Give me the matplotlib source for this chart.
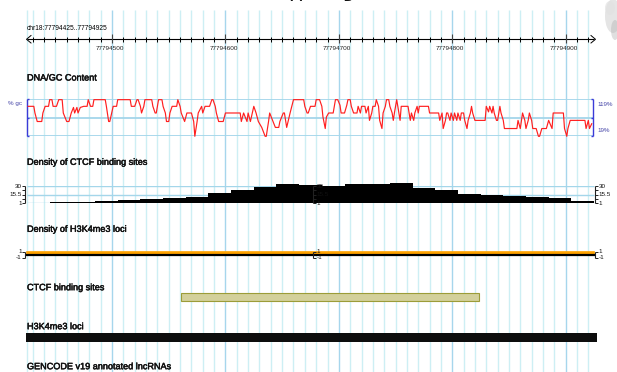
import matplotlib
matplotlib.use("Agg")
import matplotlib.pyplot as plt
from matplotlib import font_manager
from matplotlib.patches import Rectangle, Ellipse
import matplotlib.patheffects as pe

# ---------------- data ----------------
CHROM = "chr18"
REGION_START = 77794425
REGION_END = 77794925
ruler_major = [77794500, 77794600, 77794700, 77794800, 77794900]

# GC content (offset in bp from REGION_START, value in %)
gc_offset = [
    1, 6, 7, 9, 13, 14, 16, 19, 20, 22,
    23, 26, 28, 31, 32, 35, 37, 39, 41, 42,
    44, 45, 47, 50, 53, 54, 56, 58, 59, 69,
    70, 72, 73, 76, 79, 80, 91, 92, 95, 97,
    98, 100, 101, 103, 104, 110, 111, 113, 114, 116,
    119, 120, 122, 123, 125, 126, 128, 132, 133, 135,
    136, 139, 141, 145, 147, 148, 150, 151, 154, 155,
    157, 161, 163, 164, 166, 167, 169, 173, 175, 188,
    189, 191, 194, 195, 197, 200, 202, 204, 207, 210,
    211, 213, 214, 219, 222, 223, 226, 227, 229, 232,
    235, 244, 245, 247, 248, 250, 254, 255, 258, 260,
    261, 263, 264, 266, 270, 272, 274, 276, 277, 280,
    282, 283, 285, 286, 288, 291, 292, 294, 295, 298,
    299, 301, 302, 304, 305, 307, 308, 310, 311, 313,
    314, 316, 317, 319, 320, 322, 323, 324, 326, 327,
    329, 330, 336, 338, 339, 341, 342, 344, 345, 346,
    354, 355, 363, 364, 366, 367, 369, 370, 371, 373,
    374, 376, 377, 379, 380, 382, 383, 385, 386, 388,
    389, 391, 392, 393, 395, 404, 405, 407, 408, 410,
    411, 412, 414, 415, 417, 418, 420, 421, 432, 433,
    435, 436, 437, 439, 440, 442, 443, 445, 446, 449,
    451, 452, 454, 458, 460, 463, 464, 473, 474, 476,
    477, 479, 492, 493, 495, 496, 498,
]
gc_percent = [
    100, 100, 82, 59, 59, 82, 100, 100, 118, 118,
    100, 100, 118, 118, 82, 59, 59, 82, 97, 82,
    97, 82, 97, 100, 100, 118, 100, 100, 118, 118,
    100, 59, 59, 100, 100, 118, 118, 100, 100, 118,
    118, 100, 82, 100, 118, 118, 100, 82, 82, 118,
    118, 100, 82, 59, 59, 82, 100, 100, 118, 100,
    82, 59, 82, 82, 59, 19, 59, 82, 100, 82,
    100, 100, 118, 118, 100, 82, 59, 59, 82, 82,
    59, 82, 59, 82, 59, 100, 82, 59, 43, 19,
    19, 59, 82, 43, 43, 59, 82, 82, 43, 82,
    118, 118, 100, 82, 82, 100, 100, 118, 118, 100,
    71, 40, 71, 82, 82, 118, 118, 103, 82, 82,
    103, 118, 118, 100, 82, 82, 100, 82, 100, 100,
    82, 100, 62, 82, 100, 100, 118, 100, 62, 40,
    82, 100, 118, 118, 100, 82, 62, 82, 118, 100,
    62, 100, 100, 62, 82, 62, 82, 100, 82, 100,
    100, 82, 82, 62, 82, 40, 62, 82, 82, 62,
    82, 62, 82, 62, 82, 62, 82, 82, 62, 40,
    62, 82, 100, 82, 62, 62, 100, 85, 100, 82,
    100, 82, 62, 62, 100, 82, 62, 40, 40, 62,
    40, 62, 82, 62, 40, 62, 82, 62, 40, 40,
    19, 19, 40, 40, 62, 40, 82, 82, 40, 19,
    40, 62, 62, 40, 62, 40, 53,
]
gc_min, gc_max = 19, 119
gc_scale_labels = ["119%", "19%"]

# CTCF binding-site density (20 bp bins)
ctcf_bin_start = [0, 20, 40, 60, 80, 100, 120, 140, 160, 180, 200, 220, 240,
                  260, 280, 300, 320, 340, 360, 380, 400, 420, 440, 460, 480]
ctcf_bin_density = [1, 3, 3, 4.9, 6.5, 8.7, 10.4, 12, 18.8, 23.8, 28.3, 33.3, 31.7,
                    30.5, 33.3, 33.3, 35, 26.6, 23.8, 16, 14.4, 12.7, 11, 9.4, 4.4]
ctcf_scale_ticks = [1, 8.25, 15.5, 22.75, 30]
ctcf_scale_labels = {30: "30", 15.5: "15.5", 1: "1"}

# H3K4me3 density
h3_density_start = [0]
h3_density_end = [500]
h3_density_value = [1]
h3_scale_labels = {1: "1", -1: "-1"}

# Features
ctcf_site_start = [77794561]
ctcf_site_end = [77794824]
h3_locus_start = [77794424]
h3_locus_end = [77794928]

track_titles = ["DNA/GC Content", "Density of CTCF binding sites",
                "Density of H3K4me3 loci", "CTCF binding sites",
                "H3K4me3 loci", "GENCODE v19 annotated lncRNAs"]

# ---------------- fonts ----------------
names = {f.name for f in font_manager.fontManager.ttflist}
if "Liberation Sans Narrow" in names:
    FAM, K = "Liberation Sans Narrow", 1.0
else:
    FAM, K = "Liberation Sans", 0.84
plt.rcParams["font.family"] = [FAM, "DejaVu Sans"]
BOLDEN = [pe.withStroke(linewidth=0.35, foreground="#111111")]

# ---------------- layout ----------------
W, H = 617, 372
PX_L, PX_R = 27, 594
BPP = (REGION_END - REGION_START) / (PX_R - PX_L)
XLIM = (REGION_START - PX_L * BPP, REGION_START + (W - PX_L) * BPP)


def bpx(px):
    return XLIM[0] + px * BPP


fig = plt.figure(figsize=(W / 100, H / 100), dpi=100)
fig.patch.set_facecolor("white")


def ftext(x, y, s, **kw):
    return fig.text(x / W, 1 - y / H, s, **kw)


def px_axes(y0, y1, z=2):
    ax = fig.add_axes([0, 1 - y1 / H, 1, (y1 - y0) / H], zorder=z)
    ax.set_xlim(XLIM)
    ax.axis("off")
    ax.patch.set_alpha(0)
    return ax


# background grid + ruler + features (pixel rows on y)
ax_bg = fig.add_axes([0, 0, 1, 1], zorder=0)
ax_bg.set_xlim(XLIM)
ax_bg.set_ylim(H, 0)
ax_bg.axis("off")

minor_c, major_c = "#cdeff4", "#a6d6ec"
ax_bg.vlines(REGION_START, 10, H, color=minor_c, lw=1.0)
for pos in range(REGION_START + 5, REGION_END, 10):
    c = major_c if pos % 100 == 0 else minor_c
    ax_bg.vlines(pos, 10, H, color=c, lw=1.0, zorder=0)

# ruler
ax_bg.hlines(39.3, REGION_START, REGION_END, color="black", lw=0.8, zorder=3)
for pos in range(REGION_START + 5, REGION_END, 10):
    if pos % 100 == 0:
        ax_bg.vlines(pos, 33.5, 43, color="#444444", lw=0.8, zorder=3)
    else:
        ax_bg.vlines(pos, 36.5, 42, color="black", lw=0.7, zorder=3)
for pos in ruler_major:
    ax_bg.text(pos - 2 * BPP, 48.3, str(pos), ha="center", va="center",
               size=5.5 * K, color="#222222", zorder=3)
ax_bg.plot([bpx(31), bpx(26.5), bpx(31)], [35.5, 39.3, 43], color="black", lw=0.7, zorder=3)
ax_bg.plot([bpx(591), bpx(595.5), bpx(591)], [35.5, 39.3, 43], color="black", lw=0.7, zorder=3)
ftext(27, 28.3, f"{CHROM}:{REGION_START}..{REGION_END}", ha="left", va="center",
      size=5.7 * K, color="black")

# track titles
title_y = [78, 162.3, 229.3, 287.7, 326.7, 366.7]
for t, y in zip(track_titles, title_y):
    ftext(27, y, t, ha="left", va="center", size=7.8 * K, color="#111111",
          path_effects=BOLDEN)

# ---- GC content ----
ax = px_axes(99.3, 136.3)
ax.set_ylim(gc_min, gc_max)
ax.hlines([gc_min, (gc_min + gc_max) / 2, gc_max], REGION_START, REGION_END,
          color="#a4d6ea", lw=1.3, zorder=1)
ax.plot([REGION_START + o for o in gc_offset], gc_percent, color="#ff1f1f", lw=0.85,
        zorder=3, clip_on=False)
blue = "#3b3bd8"
ax.vlines(REGION_START, gc_min, gc_max, color=blue, lw=1.0, clip_on=False)
ax.hlines([gc_min, (gc_min + gc_max) / 2, gc_max], REGION_START, REGION_START + 2 * BPP,
          color=blue, lw=1.0, clip_on=False)
xr = bpx(593)
ax.vlines(xr, gc_min, gc_max, color=blue, lw=1.0, clip_on=False)
ax.hlines([gc_min, (gc_min + gc_max) / 2, gc_max], xr - 2 * BPP, xr,
          color=blue, lw=1.0, clip_on=False)
ftext(22, 103.5, "% gc", ha="right", va="center", size=5.4 * K, color="#4646a8")
ftext(597, 104, gc_scale_labels[0], ha="left", va="center", size=5.4 * K, color="#4646a8")
ftext(597, 131, gc_scale_labels[1], ha="left", va="center", size=5.4 * K, color="#4646a8")

# ---- CTCF density ----
ax = px_axes(186, 203.3)
ax.set_ylim(1, 30)
ax.hlines([1, 15.5, 30], REGION_START, REGION_END, color="#a4d6ea", lw=1.0, zorder=1)
ax.bar([REGION_START + s for s in ctcf_bin_start], [d - 1 for d in ctcf_bin_density],
       width=20, bottom=1, align="edge", color="black", lw=0, clip_on=False, zorder=2)
for xa, side in [(bpx(25), -1), (bpx(595), 1), (bpx(313), 1)]:
    ax.vlines(xa, 1, 30, color="#222222", lw=0.8, clip_on=False, zorder=4)
    ax.hlines(ctcf_scale_ticks, xa, xa + side * 3 * BPP, color="#222222", lw=0.7,
              clip_on=False, zorder=4)
    for v, lab in ctcf_scale_labels.items():
        ax.text(xa + side * 3.5 * BPP, v, lab, ha="left" if side > 0 else "right",
                va="center", size=5.4 * K, color="#111111", clip_on=False, zorder=4)

# ---- H3K4me3 density ----
ax = px_axes(251.7, 257.7)
ax.set_ylim(-1, 1)
ax.bar([REGION_START + s for s in h3_density_start],
       h3_density_value,
       width=[e - s for s, e in zip(h3_density_start, h3_density_end)],
       bottom=0, align="edge", color="#ffa200", ec="#ffa200", lw=1.2,
       clip_on=False, zorder=2)
ax.hlines(-0.1, bpx(25), bpx(596), color="black", lw=1.6, clip_on=False, zorder=3)
for xa, side in [(bpx(25), -1), (bpx(595), 1), (bpx(313), 1)]:
    ax.vlines(xa, -1, 1, color="#222222", lw=0.8, clip_on=False, zorder=4)
    ax.hlines([-1, 1], xa, xa + side * 3 * BPP, color="#222222", lw=0.7,
              clip_on=False, zorder=4)
    for v, lab in h3_scale_labels.items():
        ax.text(xa + side * 3.5 * BPP, v, lab, ha="left" if side > 0 else "right",
                va="center", size=5.4 * K, color="#111111", clip_on=False, zorder=4)

# ---- features ----
for s, e in zip(ctcf_site_start, ctcf_site_end):
    ax_bg.add_patch(Rectangle((s, 293.3), e - s, 7.7, fc="#d3d09b", ec="#9c9c38",
                              lw=0.8, zorder=3))
for s, e in zip(h3_locus_start, h3_locus_end):
    ax_bg.add_patch(Rectangle((s, 333.3), e - s, 9, fc="#0d0d0d", ec="none", zorder=3))

# ---- cropped slide heading and decoration ----
fig.text(277 / W, 1 - 6 / H, "绪显导", ha="left", va="bottom", size=20,
         family=["Noto Sans CJK SC", "DejaVu Sans"], color="#111111")
axd = fig.add_axes([598 / W, 1 - 48 / H, 19 / W, 48 / H], zorder=5)
axd.set_xlim(0, 19)
axd.set_ylim(48, 0)
axd.axis("off")
for cx, cy, w, h, g, a in [(15, 16, 16, 34, "#d0d0d0", 0.55), (17, 30, 8, 20, "#b0b0b0", 0.4),
                            (12, 8, 10, 14, "#e2e2e2", 0.7)]:
    axd.add_patch(Ellipse((cx, cy), w, h, fc=g, ec="none", alpha=a))

fig.savefig("out.png", dpi=100, facecolor="white")
